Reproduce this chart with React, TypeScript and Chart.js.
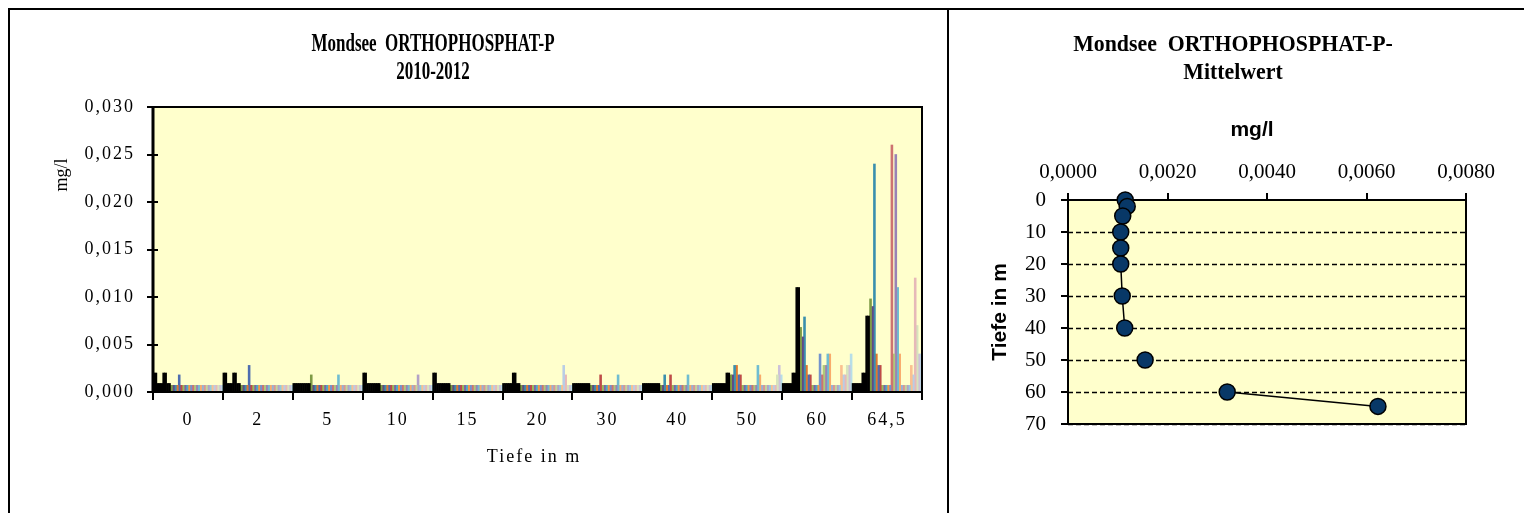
import React, { useEffect, useRef } from "react";
import { Chart, registerables } from "chart.js";
Chart.register(...registerables);

// ---------- Left chart: ORTHOPHOSPHAT-P 2010-2012, 36 samples per depth ----------
const depthLabels = ["0", "2", "5", "10", "15", "20", "30", "40", "50", "60", "64,5"];

// each array: 36 sample values (mg/l) for one depth; first nine samples are drawn black
const atDepth0 = [
  0.002, 0.002, 0.0009, 0.0009, 0.0009, 0.002, 0.002, 0.0009, 0.0009,
  0.0007, 0.0007, 0.0007, 0.0007, 0.0018, 0.0007, 0.0007, 0.0007, 0.0007,
  0.0007, 0.0007, 0.0007, 0.0007, 0.0007, 0.0007, 0.0007, 0.0007, 0.0007,
  0.0007, 0.0007, 0.0007, 0.0007, 0.0007, 0.0007, 0.0007, 0.0007, 0.0007,
];
const atDepth2 = [
  0.002, 0.002, 0.0009, 0.0009, 0.0009, 0.002, 0.002, 0.0009, 0.0009,
  0.0007, 0.0007, 0.0007, 0.0007, 0.0028, 0.0007, 0.0007, 0.0007, 0.0007,
  0.0007, 0.0007, 0.0007, 0.0007, 0.0007, 0.0007, 0.0007, 0.0007, 0.0007,
  0.0007, 0.0007, 0.0007, 0.0007, 0.0007, 0.0007, 0.0007, 0.0007, 0.0007,
];
const atDepth5 = [
  0.0009, 0.0009, 0.0009, 0.0009, 0.0009, 0.0009, 0.0009, 0.0009, 0.0009,
  0.0018, 0.0007, 0.0007, 0.0007, 0.0007, 0.0007, 0.0007, 0.0007, 0.0007,
  0.0007, 0.0007, 0.0007, 0.0007, 0.0007, 0.0018, 0.0007, 0.0007, 0.0007,
  0.0007, 0.0007, 0.0007, 0.0007, 0.0007, 0.0007, 0.0007, 0.0007, 0.0007,
];
const atDepth10 = [
  0.002, 0.002, 0.0009, 0.0009, 0.0009, 0.0009, 0.0009, 0.0009, 0.0009,
  0.0007, 0.0007, 0.0007, 0.0007, 0.0007, 0.0007, 0.0007, 0.0007, 0.0007,
  0.0007, 0.0007, 0.0007, 0.0007, 0.0007, 0.0007, 0.0007, 0.0007, 0.0007,
  0.0007, 0.0018, 0.0007, 0.0007, 0.0007, 0.0007, 0.0007, 0.0007, 0.0007,
];
const atDepth15 = [
  0.002, 0.002, 0.0009, 0.0009, 0.0009, 0.0009, 0.0009, 0.0009, 0.0009,
  0.0007, 0.0007, 0.0007, 0.0007, 0.0007, 0.0007, 0.0007, 0.0007, 0.0007,
  0.0007, 0.0007, 0.0007, 0.0007, 0.0007, 0.0007, 0.0007, 0.0007, 0.0007,
  0.0007, 0.0007, 0.0007, 0.0007, 0.0007, 0.0007, 0.0007, 0.0007, 0.0007,
];
const atDepth20 = [
  0.0009, 0.0009, 0.0009, 0.0009, 0.0009, 0.002, 0.002, 0.0009, 0.0009,
  0.0007, 0.0007, 0.0007, 0.0007, 0.0007, 0.0007, 0.0007, 0.0007, 0.0007,
  0.0007, 0.0007, 0.0007, 0.0007, 0.0007, 0.0007, 0.0007, 0.0007, 0.0007,
  0.0007, 0.0007, 0.0007, 0.0007, 0.0028, 0.0018, 0.0007, 0.0007, 0.0007,
];
const atDepth30 = [
  0.0009, 0.0009, 0.0009, 0.0009, 0.0009, 0.0009, 0.0009, 0.0009, 0.0009,
  0.0007, 0.0007, 0.0007, 0.0007, 0.0007, 0.0018, 0.0007, 0.0007, 0.0007,
  0.0007, 0.0007, 0.0007, 0.0007, 0.0007, 0.0018, 0.0007, 0.0007, 0.0007,
  0.0007, 0.0007, 0.0007, 0.0007, 0.0007, 0.0007, 0.0007, 0.0007, 0.0007,
];
const atDepth40 = [
  0.0009, 0.0009, 0.0009, 0.0009, 0.0009, 0.0009, 0.0009, 0.0009, 0.0009,
  0.0007, 0.0007, 0.0018, 0.0007, 0.0007, 0.0018, 0.0007, 0.0007, 0.0007,
  0.0007, 0.0007, 0.0007, 0.0007, 0.0007, 0.0018, 0.0007, 0.0007, 0.0007,
  0.0007, 0.0007, 0.0007, 0.0007, 0.0007, 0.0007, 0.0007, 0.0007, 0.0007,
];
const atDepth50 = [
  0.0009, 0.0009, 0.0009, 0.0009, 0.0009, 0.0009, 0.0009, 0.002, 0.002,
  0.0018, 0.0018, 0.0028, 0.0028, 0.0018, 0.0018, 0.0007, 0.0007, 0.0007,
  0.0007, 0.0007, 0.0007, 0.0007, 0.0007, 0.0028, 0.0018, 0.0007, 0.0007,
  0.0007, 0.0007, 0.0007, 0.0007, 0.0007, 0.0007, 0.0018, 0.0028, 0.0018,
];
const atDepth60 = [
  0.0009, 0.0009, 0.0009, 0.0009, 0.0009, 0.002, 0.002, 0.011, 0.011,
  0.0068, 0.0058, 0.0079, 0.0028, 0.0018, 0.0018, 0.0007, 0.0007, 0.0007,
  0.0007, 0.004, 0.0018, 0.0028, 0.0028, 0.004, 0.004, 0.0007, 0.0007,
  0.0007, 0.0007, 0.0007, 0.0028, 0.0018, 0.0018, 0.0028, 0.0028, 0.004,
];
const atDepth645 = [
  0.0009, 0.0009, 0.0009, 0.0009, 0.0009, 0.002, 0.002, 0.008, 0.008,
  0.0098, 0.009, 0.024, 0.004, 0.0028, 0.0028, 0.0007, 0.0007, 0.0007,
  0.0007, 0.0007, 0.026, 0.004, 0.025, 0.011, 0.004, 0.0007, 0.0007,
  0.0007, 0.0007, 0.0007, 0.0028, 0.0018, 0.012, 0.007, 0.004, 0.004,
];

const sampleColors = [
  "#000000", "#000000", "#000000", "#000000", "#000000", "#000000", "#000000", "#000000", "#000000",
  "#7E9A45", "#5E4A86", "#3A8FAD", "#E0772F", "#4E6DB0", "#BE4B48",
  "#9BBB59", "#8064A2", "#4BACC6", "#F79646", "#7394CD", "#CD7371",
  "#AFC97A", "#9983B5", "#6FBDD1", "#F9AB6B", "#95B3D7", "#D99694",
  "#C3D69B", "#B3A2C7", "#93CDDD", "#FAC090", "#B9CDE5", "#E6B9B8",
  "#D7E4BD", "#CCC1DA", "#B7DEE8",
];

const yTicksLeft = { min: 0, max: 0.03, step: 0.005 };

// ---------- Right chart: mean per depth ----------
const meanDepths = [0, 2, 5, 10, 15, 20, 30, 40, 50, 60, 64.5];
const meanValues = [0.00115, 0.00119, 0.0011, 0.00106, 0.00106, 0.00106, 0.00109, 0.00114, 0.00155, 0.0032, 0.00623];
const unconnectedAfter = [7, 8]; // no line 40→50 and 50→60

const SERIF = "'Liberation Serif', 'Times New Roman', serif";
const SANS = "'Liberation Sans', Arial, sans-serif";

function drawText(ctx: CanvasRenderingContext2D, text: string, x: number, y: number, font: string, opts: { sx?: number; rot?: number; spacing?: number } = {}) {
  ctx.save();
  ctx.font = font;
  ctx.fillStyle = "#000";
  ctx.textAlign = "center";
  ctx.textBaseline = "middle";
  (ctx as any).letterSpacing = (opts.spacing || 0) + "px";
  ctx.translate(x, y);
  if (opts.rot) ctx.rotate(opts.rot);
  if (opts.sx) ctx.scale(opts.sx, 1);
  ctx.fillText(text, 0, 0);
  ctx.restore();
}

const leftDecor = {
  id: "leftDecor",
  beforeDraw(chart: any) {
    const { ctx, chartArea: a } = chart;
    ctx.save();
    ctx.fillStyle = "#FFFFCC";
    ctx.fillRect(a.left, a.top, a.right - a.left, a.bottom - a.top);
    ctx.restore();
    (ctx as any).letterSpacing = "2px";
  },
  afterDatasetsDraw(chart: any) {
    const { ctx, chartArea: a, scales } = chart;
    ctx.save();
    ctx.strokeStyle = "#000";
    ctx.lineWidth = 2;
    ctx.strokeRect(a.left, a.top, a.right - a.left, a.bottom - a.top);
    ctx.beginPath();
    ctx.moveTo(a.left, a.top);
    ctx.lineTo(a.left, a.bottom);
    ctx.lineWidth = 3;
    ctx.stroke();
    ctx.lineWidth = 2;
    scales.y.ticks.forEach((t: any) => {
      const py = Math.round(scales.y.getPixelForValue(t.value));
      ctx.beginPath();
      ctx.moveTo(a.left - 6, py);
      ctx.lineTo(a.left + 5, py);
      ctx.stroke();
    });
    const n = depthLabels.length;
    const w = (a.right - a.left) / n;
    for (let i = 0; i <= n; i++) {
      const px = Math.round(scales.x.getPixelForValue(Math.min(i, n - 1)) + (i < n ? -w / 2 : w / 2));
      ctx.beginPath();
      ctx.moveTo(px, a.bottom);
      ctx.lineTo(px, a.bottom + 8);
      ctx.stroke();
    }
    ctx.restore();
  },
  afterDraw(chart: any) {
    const { ctx } = chart;
    (ctx as any).letterSpacing = "0px";
    drawText(ctx, "Mondsee  ORTHOPHOSPHAT-P", 423, 35, `bold 25px ${SERIF}`, { sx: 0.68 });
    drawText(ctx, "2010-2012", 423, 63, `bold 25px ${SERIF}`, { sx: 0.68 });
    drawText(ctx, "mg/l", 52, 165, `18px ${SERIF}`, { rot: -Math.PI / 2 });
    drawText(ctx, "Tiefe in m", 524, 447, `18px ${SERIF}`, { spacing: 2 });
  },
};

const rightDecor = {
  id: "rightDecor",
  beforeDraw(chart: any) {
    const { ctx, chartArea: a } = chart;
    ctx.save();
    ctx.fillStyle = "#FFFFCC";
    ctx.fillRect(a.left, a.top, a.right - a.left, a.bottom - a.top);
    ctx.restore();
  },
  beforeDatasetsDraw(chart: any) {
    const { ctx, chartArea: a, scales } = chart;
    ctx.save();
    ctx.strokeStyle = "#000";
    ctx.lineWidth = 1.5;
    ctx.setLineDash([5, 3]);
    scales.y.ticks.forEach((t: any) => {
      if (t.value === 0) return;
      const py = Math.round(scales.y.getPixelForValue(t.value)) + 0.5;
      ctx.beginPath();
      ctx.moveTo(a.left, py);
      ctx.lineTo(a.right, py);
      ctx.stroke();
    });
    ctx.setLineDash([]);
    ctx.lineWidth = 2;
    ctx.strokeRect(a.left, a.top, a.right - a.left, a.bottom - a.top);
    scales.y.ticks.forEach((t: any) => {
      const py = Math.round(scales.y.getPixelForValue(t.value));
      ctx.beginPath();
      ctx.moveTo(a.left - 7, py);
      ctx.lineTo(a.left, py);
      ctx.stroke();
    });
    scales.x.ticks.forEach((t: any) => {
      const px = Math.round(scales.x.getPixelForValue(t.value));
      ctx.beginPath();
      ctx.moveTo(px, a.top - 7);
      ctx.lineTo(px, a.top);
      ctx.stroke();
    });
    ctx.restore();
  },
  afterDraw(chart: any) {
    const { ctx } = chart;
    drawText(ctx, "Mondsee  ORTHOPHOSPHAT-P-", 284, 35, `bold 23px ${SERIF}`, { sx: 0.95 });
    drawText(ctx, "Mittelwert", 284, 63, `bold 23px ${SERIF}`, { sx: 0.95 });
    drawText(ctx, "mg/l", 303, 120, `bold 21px ${SANS}`);
    drawText(ctx, "Tiefe in m", 51, 302, `bold 21px ${SANS}`, { rot: -Math.PI / 2 });
  },
};

export default function App() {
  const leftRef = useRef<HTMLCanvasElement>(null);
  const rightRef = useRef<HTMLCanvasElement>(null);

  useEffect(() => {
    const depthArrays = [atDepth0, atDepth2, atDepth5, atDepth10, atDepth15, atDepth20, atDepth30, atDepth40, atDepth50, atDepth60, atDepth645];
    const datasets = sampleColors.map((color, s) => ({
      label: "Probe " + (s + 1),
      data: depthArrays.map((arr) => arr[s]),
      backgroundColor: color,
      borderWidth: 0,
      categoryPercentage: 1,
      barPercentage: 1,
    }));

    const left = new Chart(leftRef.current!, {
      type: "bar",
      data: { labels: depthLabels, datasets },
      options: {
        animation: false,
        responsive: false,
        devicePixelRatio: 1,
        layout: { padding: { left: 0, top: 97, right: 25, bottom: 74 } },
        plugins: { legend: { display: false }, tooltip: { enabled: false } },
        scales: {
          x: {
            grid: { display: false, drawTicks: false },
            border: { display: false },
            ticks: { color: "#000", font: { family: SERIF, size: 18 }, padding: 17, maxRotation: 0, autoSkip: false },
            afterFit: (s: any) => { s.height = 60; },
          },
          y: {
            min: yTicksLeft.min,
            max: yTicksLeft.max,
            grid: { display: false, drawTicks: false },
            border: { display: false },
            ticks: {
              stepSize: yTicksLeft.step,
              color: "#000",
              font: { family: SERIF, size: 18 },
              padding: 18,
              callback: (v: any) => Number(v).toFixed(3).replace(".", ","),
            },
            afterFit: (s: any) => { s.width = 143; },
          },
        },
      },
      plugins: [leftDecor],
    } as any);

    const right = new Chart(rightRef.current!, {
      type: "scatter",
      data: {
        datasets: [
          {
            label: "Mittelwert",
            data: meanDepths.map((d, i) => ({ x: meanValues[i], y: d })),
            showLine: true,
            borderColor: "#000",
            borderWidth: 1.5,
            pointStyle: "circle",
            pointRadius: 8,
            pointBackgroundColor: "#083867",
            pointBorderColor: "#000",
            pointBorderWidth: 1.5,
            clip: false,
            segment: {
              borderColor: (c: any) => (unconnectedAfter.includes(c.p0DataIndex) ? "rgba(0,0,0,0)" : "#000"),
            },
          },
        ],
      },
      options: {
        animation: false,
        responsive: false,
        devicePixelRatio: 1,
        layout: { padding: { left: 0, top: 130, right: 58, bottom: 102 } },
        plugins: { legend: { display: false }, tooltip: { enabled: false } },
        scales: {
          x: {
            type: "linear",
            position: "top",
            min: 0,
            max: 0.008,
            grid: { display: false, drawTicks: false },
            border: { display: false },
            ticks: {
              stepSize: 0.002,
              color: "#000",
              font: { family: SERIF, size: 21 },
              padding: 15,
              callback: (v: any) => Number(v).toFixed(4).replace(".", ","),
            },
            afterFit: (s: any) => { s.height = 60; },
          },
          y: {
            type: "linear",
            reverse: true,
            min: 0,
            max: 70,
            grid: { display: false, drawTicks: false },
            border: { display: false },
            ticks: { stepSize: 10, color: "#000", font: { family: SERIF, size: 21 }, padding: 22 },
            afterFit: (s: any) => { s.width = 119; },
          },
        },
      },
      plugins: [rightDecor],
    } as any);

    return () => {
      left.destroy();
      right.destroy();
    };
  }, []);

  return (
    <div style={{ position: "relative", width: 1518, height: 505, overflow: "hidden" }}>
      <div style={{ position: "absolute", left: 0, top: 0, width: 941, height: 520, border: "2px solid #000", boxSizing: "border-box", background: "#fff" }}>
        <canvas ref={leftRef} width={937} height={516} style={{ display: "block", width: 937, height: 516 }} />
      </div>
      <div style={{ position: "absolute", left: 939, top: 0, width: 579, height: 520, border: "2px solid #000", boxSizing: "border-box", background: "#fff" }}>
        <canvas ref={rightRef} width={575} height={516} style={{ display: "block", width: 575, height: 516 }} />
      </div>
    </div>
  );
}
